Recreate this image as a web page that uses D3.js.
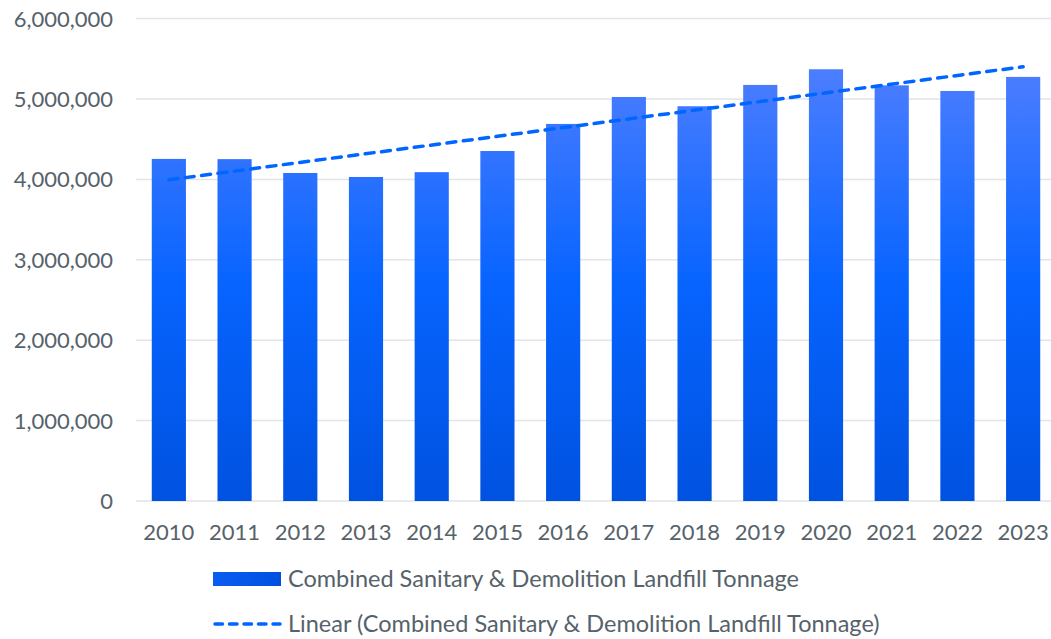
<!DOCTYPE html>
<html>
<head>
<meta charset="utf-8">
<script src="https://cdn.jsdelivr.net/npm/d3@7"></script>
<style>
  body { margin: 0; background: #fff; }
  text { font-family: Lato, "Open Sans", sans-serif; fill: #56626a; }
</style>
</head>
<body>
<div id="chart"></div>
<script>
// data
var years = ["2010", "2011", "2012", "2013", "2014", "2015", "2016", "2017", "2018", "2019", "2020", "2021", "2022", "2023"]
var tonnage = [4255000, 4252000, 4080000, 4030000, 4090000, 4353000, 4690000, 5025000, 4910000, 5175000, 5370000, 5170000, 5100000, 5275000]
var yTicks = [0, 1000000, 2000000, 3000000, 4000000, 5000000, 6000000]
var seriesName = "Combined Sanitary & Demolition Landfill Tonnage"

var W = 1051, H = 639
var svg = d3.select("#chart").append("svg").attr("width", W).attr("height", H)

var x = d3.scaleBand().domain(years).range([136, 1056]).paddingInner(0.48).paddingOuter(0.24)
var y = d3.scaleLinear().domain([0, 6000000]).range([501, 18.6])

var defs = svg.append("defs")
// bars use one gradient spanning the plot height
var grad = defs.append("linearGradient").attr("id", "barGrad")
  .attr("gradientUnits", "userSpaceOnUse").attr("x1", 0).attr("x2", 0).attr("y1", y(5400000)).attr("y2", y(0))
grad.append("stop").attr("offset", "0%").attr("stop-color", "#4d7eff")
grad.append("stop").attr("offset", "50%").attr("stop-color", "#0764ff")
grad.append("stop").attr("offset", "100%").attr("stop-color", "#0052e0")

var lgGrad = defs.append("linearGradient").attr("id", "legGrad").attr("x1", 0).attr("y1", 0).attr("x2", 1).attr("y2", 0)
lgGrad.append("stop").attr("offset", "0%").attr("stop-color", "#0a5cf2")
lgGrad.append("stop").attr("offset", "100%").attr("stop-color", "#0050e0")

// gridlines
svg.append("g").selectAll("line").data(yTicks).enter().append("line")
  .attr("x1", 136).attr("x2", W)
  .attr("y1", function(d) { return y(d) }).attr("y2", function(d) { return y(d) })
  .attr("stroke", "#e1e4e8").attr("stroke-width", 1.5)

// y labels
svg.append("g").selectAll("text").data(yTicks).enter().append("text")
  .attr("x", 113).attr("y", function(d) { return y(d) })
  .attr("dy", "0.36em").attr("text-anchor", "end")
  .style("font-size", "22px")
  .text(function(d) { return d3.format(",")(d) })

// bars
svg.append("g").selectAll("rect").data(tonnage).enter().append("rect")
  .attr("x", function(d, i) { return x(years[i]) })
  .attr("width", x.bandwidth())
  .attr("y", function(d) { return y(d) })
  .attr("height", function(d) { return y(0) - y(d) })
  .attr("fill", "url(#barGrad)")

// x labels
svg.append("g").selectAll("text").data(years).enter().append("text")
  .attr("x", function(d) { return x(d) + x.bandwidth() / 2 })
  .attr("y", 532).attr("dy", "0.36em").attr("text-anchor", "middle")
  .style("font-size", "22px")
  .text(function(d) { return d })

// linear trend (least squares on the bar values)
var n = tonnage.length
var mx = d3.mean(tonnage, function(d, i) { return i })
var my = d3.mean(tonnage)
var sxy = d3.sum(tonnage, function(d, i) { return (i - mx) * (d - my) })
var sxx = d3.sum(tonnage, function(d, i) { return (i - mx) * (i - mx) })
var slope = sxy / sxx
var trend = [0, n - 1].map(function(i) { return { i: i, v: my + slope * (i - mx) } })

var line = d3.line()
  .x(function(d) { return x(years[d.i]) + x.bandwidth() / 2 })
  .y(function(d) { return y(d.v) })

svg.append("path").datum(trend).attr("d", line)
  .attr("fill", "none").attr("stroke", "#0066ff").attr("stroke-width", 3.5)
  .attr("stroke-dasharray", "9,7.5").attr("stroke-linecap", "round")

// legend
var leg = svg.append("g")
leg.append("rect").attr("x", 213).attr("y", 572).attr("width", 68).attr("height", 14).attr("fill", "url(#legGrad)")
leg.append("text").attr("x", 288).attr("y", 579).attr("dy", "0.36em").style("font-size", "23.5px").text(seriesName)
leg.append("line").attr("x1", 215).attr("x2", 280).attr("y1", 624).attr("y2", 624)
  .attr("stroke", "#0066ff").attr("stroke-width", 3.5)
  .attr("stroke-dasharray", "7.5,7").attr("stroke-linecap", "round")
leg.append("text").attr("x", 288).attr("y", 624).attr("dy", "0.36em").style("font-size", "23.5px").text("Linear (" + seriesName + ")")
</script>
</body>
</html>
